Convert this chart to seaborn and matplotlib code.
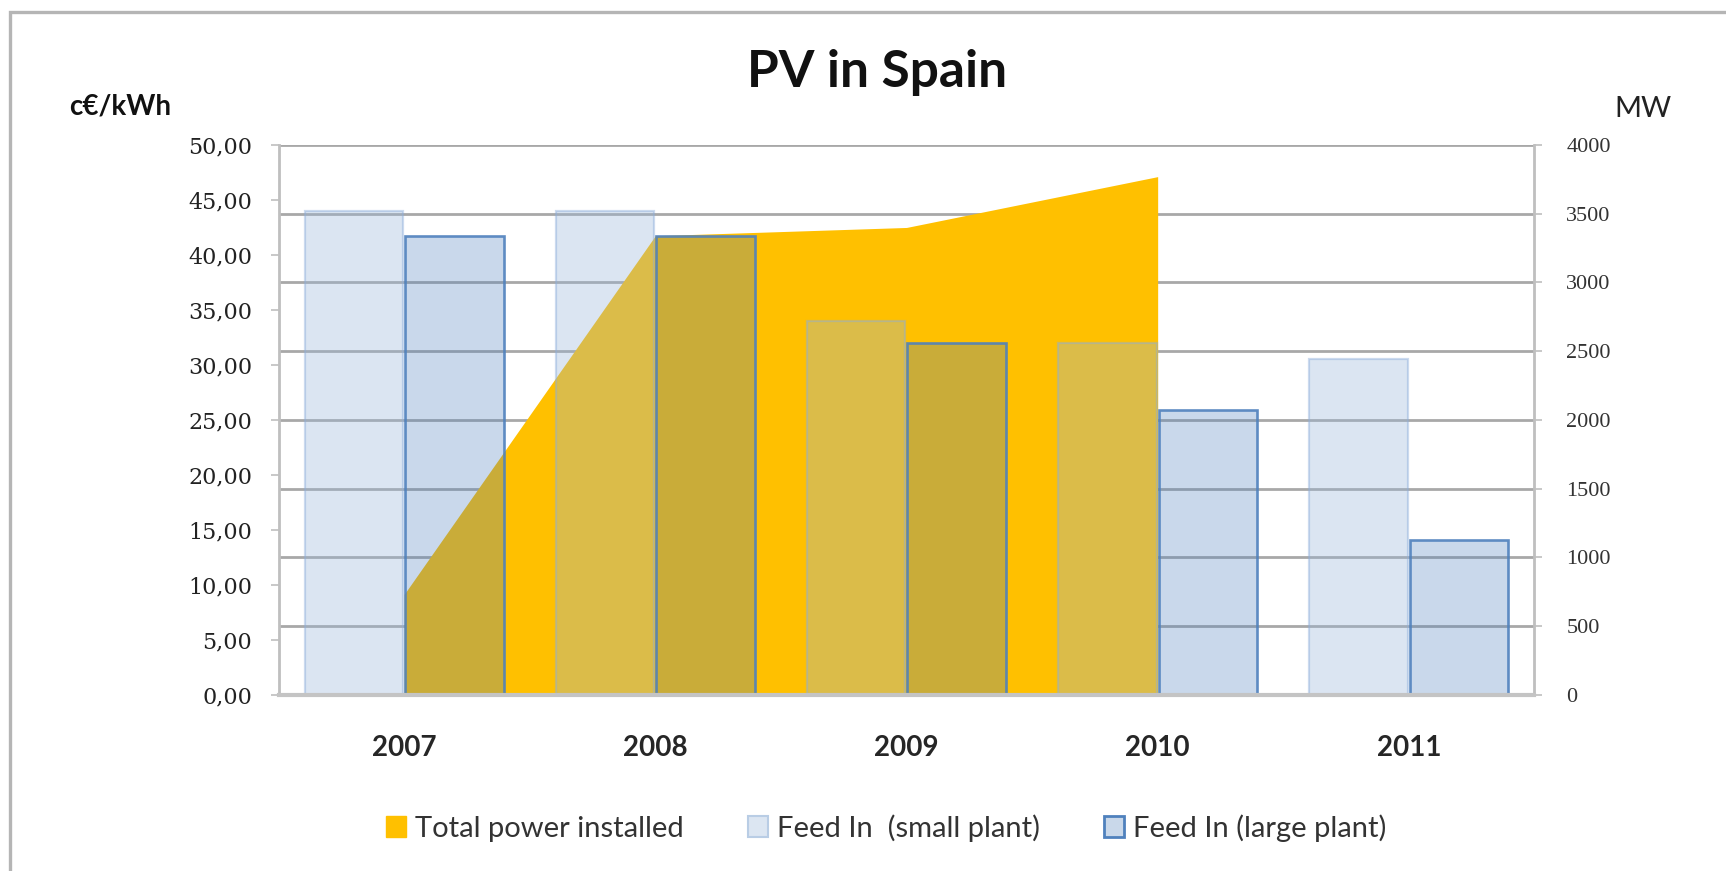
import matplotlib
matplotlib.use("Agg")
import pandas as pd
import matplotlib.pyplot as plt
import seaborn as sns
from matplotlib.patches import Patch, Rectangle
from matplotlib.ticker import FuncFormatter, MultipleLocator

# data
years = ["2007", "2008", "2009", "2010", "2011"]
feed_small = [44.04, 44.04, 34.00, 32.00, 30.50]   # c€/kWh
feed_large = [41.75, 41.75, 32.00, 25.86, 14.10]   # c€/kWh
power_years = ["2007", "2008", "2009", "2010"]
power_mw = [730, 3340, 3400, 3770]                  # MW installed

series_names = ["Feed In  (small plant)", "Feed In (large plant)"]
df = pd.DataFrame({
    "year": years + years,
    "value": feed_small + feed_large,
    "series": [series_names[0]] * len(years) + [series_names[1]] * len(years),
})

sns.set_style("white")
plt.rcParams["font.family"] = ["Lato", "DejaVu Sans"]

fig = plt.figure(figsize=(17.26, 8.71), dpi=100)
ax = fig.add_axes([0.1614, 0.2025, 0.7276, 0.631])
ax2 = ax.twinx()

# area on the secondary axis, kept underneath the bars
ax.set_zorder(ax2.get_zorder() + 1)
ax.patch.set_visible(False)

ax2.yaxis.grid(True, color="#A8A8A8", lw=2.0)
ax2.set_axisbelow(True)
xs = [years.index(y) for y in power_years]
ax2.fill_between(xs, 0, power_mw, color="#FFC000", lw=0, zorder=2)
ax2.set_ylim(0, 4000)
ax2.yaxis.set_major_locator(MultipleLocator(500))

sns.barplot(data=df, x="year", y="value", hue="series",
            palette=["#98B5D9", "#4F81BD"], width=0.80, gap=0.02,
            ax=ax, legend=False)

small_face = (0.596, 0.710, 0.851, 0.34)
small_edge = (0.55, 0.68, 0.86, 0.45)
large_face = (0.310, 0.506, 0.741, 0.30)
large_edge = (0.310, 0.506, 0.741, 0.9)
for bar in ax.containers[0]:
    bar.set_facecolor(small_face)
    bar.set_edgecolor(small_edge)
    bar.set_linewidth(1.6)
for bar in ax.containers[1]:
    bar.set_facecolor(large_face)
    bar.set_edgecolor(large_edge)
    bar.set_linewidth(1.9)

ax.set_xlim(-0.5, len(years) - 0.5)
ax.set_ylim(0, 50)
ax.yaxis.set_major_locator(MultipleLocator(5))
ax.yaxis.set_major_formatter(FuncFormatter(lambda v, p: f"{v:.2f}".replace(".", ",")))
ax.set_xlabel("")
ax.set_ylabel("")
ax2.set_ylabel("")

ax.set_xticks([i - 0.5 for i in range(len(years) + 1)], minor=True)
ax.tick_params(axis="x", which="major", length=0, pad=29, labelsize=20)
ax.tick_params(axis="x", which="minor", length=7, width=1.5, color="#BFBFBF", direction="out")
for lbl in ax.get_xticklabels():
    lbl.set_fontweight("bold")
ax.tick_params(axis="y", length=6, width=1.2, color="#BFBFBF", pad=13, direction="out",
               labelsize=16, labelcolor="#222222")
ax2.tick_params(axis="y", length=6, width=1.2, color="#BFBFBF", pad=17, direction="out",
                labelsize=16, labelcolor="#333333")
for lbl in ax.get_yticklabels():
    lbl.set_fontfamily(["DejaVu Serif"])
for lbl in ax2.get_yticklabels():
    lbl.set_fontfamily(["Liberation Serif", "DejaVu Serif"])

for a in (ax, ax2):
    a.spines["top"].set_visible(False)
ax.spines["right"].set_visible(False)
ax.spines["left"].set_color("#BFBFBF")
ax.spines["left"].set_linewidth(2)
ax.spines["bottom"].set_color("#C4C4C4")
ax.spines["bottom"].set_linewidth(3)
ax2.spines["right"].set_color("#BFBFBF")
ax2.spines["right"].set_linewidth(2)
ax2.spines["left"].set_visible(False)
ax2.spines["bottom"].set_visible(False)

fig.text(877 / 1726, 1 - 73 / 871, "PV in Spain", ha="center", va="center",
         fontsize=37, fontweight="bold", color="#111111")
fig.text(120 / 1726, 1 - 106 / 871, "c€/kWh", ha="center", va="center",
         fontsize=20, fontweight="bold", color="#111111")
fig.text(1643 / 1726, 1 - 109 / 871, "MW", ha="center", va="center",
         fontsize=21, color="#222222")

handles = [
    Patch(facecolor="#FFC000", edgecolor="#FFC000", label="Total power installed"),
    Patch(facecolor="#DCE6F2", edgecolor="#B9CDE5", lw=1.5, label=series_names[0]),
    Patch(facecolor="#C9D8EA", edgecolor="#4F81BD", lw=2, label=series_names[1]),
]
fig.legend(handles=handles, loc="center", bbox_to_anchor=(886 / 1726, 1 - 828 / 871),
           ncol=3, frameon=False, fontsize=21, handlelength=0.7, handleheight=0.7,
           handletextpad=0.3, columnspacing=2.2, labelcolor="#333333")

# outer chart border, its right and bottom edges fall off the image
fig.patches.append(Rectangle((10 / 1726, -0.2), 1.2, 1.2 - 12 / 871, transform=fig.transFigure,
                             fill=False, edgecolor="#B5B5B5", lw=2.4))

fig.savefig("out.png", dpi=100)
